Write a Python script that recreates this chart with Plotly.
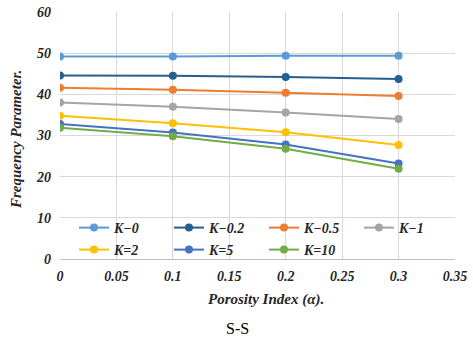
import plotly.graph_objects as go

porosity = [0, 0.1, 0.2, 0.3]
names = ["K\u22120", "K\u22120.2", "K\u22120.5", "K\u22121", "K=2", "K=5", "K=10"]
k0 = [49.2, 49.2, 49.4, 49.4]
k02 = [44.6, 44.5, 44.2, 43.7]
k05 = [41.6, 41.1, 40.4, 39.6]
k1 = [38.0, 37.0, 35.6, 34.0]
k2 = [34.8, 33.0, 30.8, 27.7]
k5 = [32.8, 30.7, 27.8, 23.2]
k10 = [31.9, 29.8, 26.8, 21.9]
series = [k0, k02, k05, k1, k2, k5, k10]
colors = ["#5B9BD5", "#255E91", "#ED7D31", "#A5A5A5", "#FFC000", "#4472C4", "#70AD47"]

serif = "Liberation Serif, Times New Roman, serif"
txt = "#262626"

L, R, T, B = 60, 18, 12, 79
W, H = 473, 338
pw, ph = W - L - R, H - T - B


def px(xp):
    return (xp - L) / pw


def py(yp):
    return (H - B - yp) / ph


fig = go.Figure()
for i, (n, v, c) in enumerate(zip(names, series, colors)):
    fig.add_trace(go.Scatter(
        x=porosity, y=v, name=n, mode="lines+markers",
        line=dict(color=c, width=2),
        marker=dict(color=c, size=8),
        legend="legend" if i < 4 else "legend2",
    ))

legfont = dict(family=serif, size=14, weight="bold", style="italic", color=txt)
tickfont = dict(family=serif, size=14, weight="bold", style="italic", color=txt)

fig.update_layout(
    width=W, height=H,
    margin=dict(l=L, r=R, t=T, b=B),
    paper_bgcolor="white", plot_bgcolor="white",
    font=dict(family=serif, color=txt),
    showlegend=True,
    legend=dict(
        orientation="h", x=px(74), y=py(228), xanchor="left", yanchor="middle",
        bgcolor="rgba(0,0,0,0)", font=legfont,
        entrywidth=50, entrywidthmode="pixels",
    ),
    legend2=dict(
        orientation="h", x=px(74), y=py(250), xanchor="left", yanchor="middle",
        bgcolor="rgba(0,0,0,0)", font=legfont,
        entrywidth=50, entrywidthmode="pixels",
    ),
    xaxis=dict(
        range=[0, 0.35], dtick=0.05, tick0=0,
        showgrid=True, gridcolor="#D9D9D9", gridwidth=1,
        showline=True, linecolor="#BFBFBF", linewidth=1,
        zeroline=False, ticks="", automargin=False,
        ticklabelstandoff=4,
        tickfont=tickfont,
    ),
    yaxis=dict(
        range=[0, 60], dtick=10,
        showgrid=True, gridcolor="#D9D9D9", gridwidth=1,
        showline=False, zeroline=False, ticks="", automargin=False,
        ticklabelstandoff=8,
        tickfont=tickfont,
    ),
    annotations=[
        dict(text="Porosity Index (\u03b1).", xref="paper", yref="paper",
             x=px(266), y=py(299), showarrow=False, xanchor="center", yanchor="middle",
             font=dict(family=serif, size=15, weight="bold", style="italic", color=txt)),
        dict(text="Frequency Parameter.", xref="paper", yref="paper",
             x=px(16), y=py(140), showarrow=False, xanchor="center", yanchor="middle",
             textangle=-90,
             font=dict(family=serif, size=15, weight="bold", style="italic", color=txt)),
        dict(text="S-S", xref="paper", yref="paper", x=px(237), y=py(328),
             showarrow=False, xanchor="center", yanchor="middle",
             font=dict(family=serif, size=16, color="#000000")),
    ],
)

fig.write_html("out.html", config={"displayModeBar": False},
               post_script="document.body.style.margin='0';document.body.style.overflow='hidden';")
